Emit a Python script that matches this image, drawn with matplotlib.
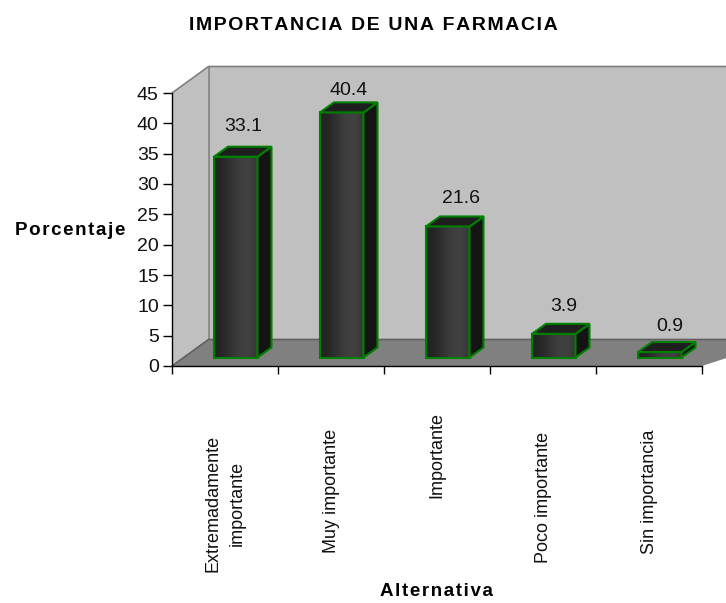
import numpy as np
import matplotlib
matplotlib.use("Agg")
import matplotlib.pyplot as plt
from matplotlib.patches import Polygon

plt.rcParams['font.family'] = ['Liberation Sans', 'DejaVu Sans']

categories = ["Extremadamente\nimportante", "Muy importante", "Importante", "Poco importante", "Sin importancia"]
values = [33.1, 40.4, 21.6, 3.9, 0.9]
y_ticks = [0, 5, 10, 15, 20, 25, 30, 35, 40, 45]

# label placement, in pixels
label_shift = [29, 29, 35, 32, 32]
label_gap = [20, 12, 18, 17, 16]
cat_center = [503, 491, 455, 497, 492]

W, H = 726, 603
fig = plt.figure(figsize=(W / 100, H / 100), dpi=100, facecolor='white')
# front plot box in pixels: x 172-702, y 93-366
ax = fig.add_axes([172 / W, 1 - 366 / H, 530 / W, 273 / H])
ax.set_xlim(0, 5)
ax.set_ylim(0, 45)

px_x = 1 / 106
px_y = 45 / 273
# depth of the fake 3d box and of the bars, in data units
dx = 36.5 * px_x
dy = 26.5 * px_y
bar_dx = 14 * px_x
bar_dy = 10 * px_y
bar_w = 43.5 * px_x
bar_off = 42 * px_x
base = 8.5 * px_y
EDGE = '#008000'


def poly(pts, fc, ec='none', lw=1.0, z=1):
    ax.add_patch(Polygon(pts, closed=True, facecolor=fc, edgecolor=ec, linewidth=lw,
                         zorder=z, clip_on=False, joinstyle='miter'))


# walls and floor
x_end = 5 + 24 * px_x
poly([(dx, dy), (x_end + 0.3, dy), (x_end + 0.3, 45 + dy), (dx, 45 + dy)], '#c0c0c0', z=1)
poly([(0, 0), (dx, dy), (dx, 45 + dy), (0, 45)], '#c0c0c0', z=1)
poly([(0, 0), (dx, dy), (x_end + 0.3, dy), (x_end + 0.3, 3.0), (5, 0)], '#808080', z=1)
ax.plot([0, dx, x_end + 0.3], [45, 45 + dy, 45 + dy], color='#808080', lw=1.2, zorder=2, clip_on=False)
ax.plot([dx, dx], [dy, 45 + dy], color='#808080', lw=1.2, zorder=2, clip_on=False)
ax.plot([0, dx, x_end + 0.3], [0, dy, dy], color='#606060', lw=1.2, zorder=2, clip_on=False)

# bars
grad = np.array([[0.14, 0.15, 0.18, 0.21, 0.24, 0.25, 0.25, 0.22]])
for i, v in enumerate(values):
    x0 = i + bar_off
    x1 = x0 + bar_w
    top = base + v
    ax.imshow(grad, cmap='gray', vmin=0, vmax=1, aspect='auto', interpolation='bilinear',
              extent=(x0, x1, base, top), zorder=3, clip_on=False)
    poly([(x0, base), (x1, base), (x1, top), (x0, top)], 'none', EDGE, 1.5, 4)
    poly([(x1, base), (x1 + bar_dx, base + bar_dy), (x1 + bar_dx, top + bar_dy), (x1, top)], '#141414', EDGE, 1.5, 4)
    poly([(x0, top), (x1, top), (x1 + bar_dx, top + bar_dy), (x0 + bar_dx, top + bar_dy)], '#1e1e1e', EDGE, 1.5, 4)
    ax.text(x0 + label_shift[i] * px_x, top + bar_dy + label_gap[i] * px_y, f"{v}", ha='center', va='center',
            fontsize=14, color='#111111', zorder=5)

ax.set_xlim(0, 5)
ax.set_ylim(0, 45)

for s in ['top', 'right']:
    ax.spines[s].set_visible(False)
for s in ['left', 'bottom']:
    ax.spines[s].set_color('black')
    ax.spines[s].set_linewidth(1.0)
    ax.spines[s].set_zorder(6)

ax.set_yticks(y_ticks)
ax.tick_params(axis='y', labelsize=14, length=6.5, pad=3, width=1, labelcolor='#111111')
ax.set_xticks(range(6))
ax.set_xticklabels([])
ax.tick_params(axis='x', length=6, width=1, direction='out')
for i, c in enumerate(categories):
    fig.text((172 + 106 * (i + 0.5)) / W, 1 - cat_center[i] / H, c, rotation=90, ha='center', va='center',
             fontsize=13, linespacing=1.55, color='#111111', multialignment='center')

sp = '\u200a'
fig.text(373 / W, 1 - 25 / H, sp.join("IMPORTANCIA DE UNA FARMACIA"), ha='center', va='center', fontsize=14, fontweight='bold')
fig.text(70 / W, 1 - 231 / H, sp.join("Porcentaje"), ha='center', va='center', fontsize=13.5, fontweight='bold')
fig.text(436 / W, 1 - 592 / H, sp.join("Alternativa"), ha='center', va='center', fontsize=13.5, fontweight='bold')

fig.savefig('out.png', dpi=100)
